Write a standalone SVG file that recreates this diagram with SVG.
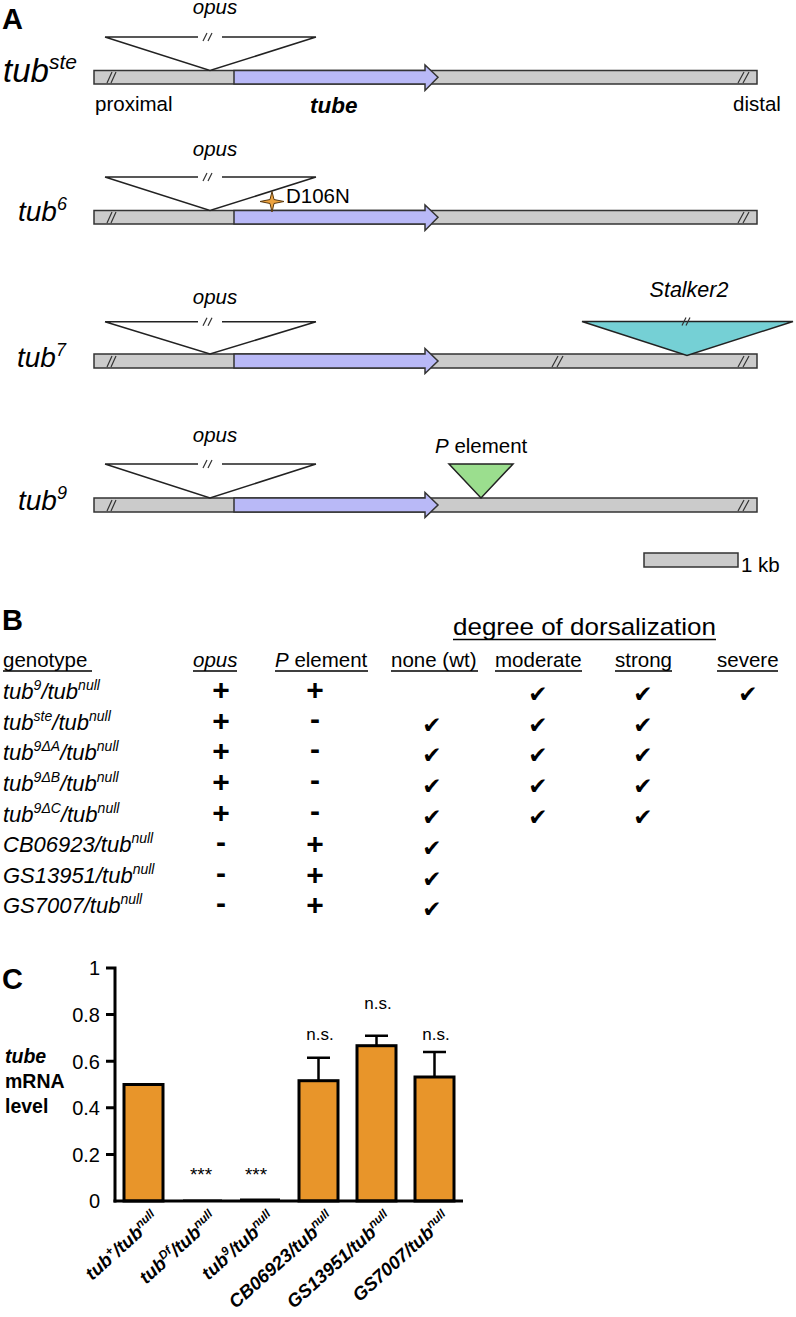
<svg xmlns="http://www.w3.org/2000/svg" width="796" height="1317" viewBox="0 0 796 1317">
<style>
text{font-family:"Liberation Sans",Arial,sans-serif;fill:#000}
.it{font-style:italic}
.b{font-weight:bold}
.bar{fill:#cbcbcb;stroke:#333;stroke-width:1.5}
.gene{fill:#b9b9f7;stroke:#333;stroke-width:1.5}
.insf{fill:#fff;stroke:none}
.ins{fill:none;stroke:#222;stroke-width:1.5}
.brk{stroke:#333;stroke-width:1.2;fill:none}
.lbl{font-size:20.5px}
.ul{stroke:#000;stroke-width:1.5}
.chk{font-family:"DejaVu Sans",sans-serif;font-size:23px;text-anchor:middle}
.pm{font-size:30px;font-weight:bold;text-anchor:middle}
.gt{font-size:22px;font-style:italic}
.hd{font-size:20.5px}
.obar{fill:#e8952a;stroke:#000;stroke-width:3}
.err{stroke:#000;stroke-width:2.5;fill:none}
.ax{stroke:#000;stroke-width:3;fill:none}
.tk{font-size:20px;text-anchor:end}
.xl{font-size:18.5px;font-weight:bold;font-style:italic;text-anchor:end}
.ns{font-size:17px;text-anchor:middle}
</style>

<g id="panel-labels">
<text x="2" y="29" font-size="29" class="b">A</text>
<text x="2" y="630" font-size="29" class="b">B</text>
<text x="2" y="989" font-size="29" class="b">C</text>
</g>

<!-- Row 1: tub ste -->
<g id="row-tubste">
<text x="3" y="82" font-size="33" class="it">tub<tspan font-size="21" dy="-13">ste</tspan></text>
<rect class="bar" x="94" y="70.5" width="663" height="13.5"/>
<path class="gene" d="M234,70.5 H425 V65 L438,77.25 L425,90.5 V84 H234 Z"/>
<path class="brk" d="M107,83 L112,72 M111,83 L116,72 M738,83 L744,72 M743,83 L749,72"/>
<polygon class="insf" points="105,37 316,37 210,70.5"/>
<path class="ins" d="M105,37 L210,70.5 L316,37 M105,37 H198 M222,37 H316"/>
<path class="brk" d="M203,41 L207,33 M208,41 L212,33"/>
<text x="215" y="14" class="lbl it" text-anchor="middle">opus</text>
<text x="95" y="111" class="lbl">proximal</text>
<text x="310" y="113" font-size="22.5" class="b it">tube</text>
<text x="733" y="111" class="lbl">distal</text>
</g>

<!-- Row 2: tub6 -->
<g id="row-tub6">
<text x="18" y="221" font-size="28" class="it">tub<tspan font-size="18" dy="-11">6</tspan></text>
<rect class="bar" x="94" y="210.5" width="663" height="13.5"/>
<path class="gene" d="M234,210.5 H425 V205 L438,217.25 L425,230.5 V224 H234 Z"/>
<path class="brk" d="M107,223 L112,212 M111,223 L116,212 M738,223 L744,212 M743,223 L749,212"/>
<polygon class="insf" points="105,177 316,177 210,210.5"/>
<path class="ins" d="M105,177 L210,210.5 L316,177 M105,177 H198 M222,177 H316"/>
<path class="brk" d="M203,181 L207,173 M208,181 L212,173"/>
<text x="215" y="156" class="lbl it" text-anchor="middle">opus</text>
<path d="M272,191.5 L274,199.5 L284,201.5 L274,203.5 L272,212 L270,203.5 L260,201.5 L270,199.5 Z" fill="#eda33f" stroke="#5a3a10" stroke-width="1"/>
<text x="286" y="203" class="lbl">D106N</text>
</g>

<!-- Row 3: tub7 -->
<g id="row-tub7">
<text x="17" y="367" font-size="28" class="it">tub<tspan font-size="18" dy="-11">7</tspan></text>
<rect class="bar" x="94" y="354" width="663" height="14"/>
<path class="gene" d="M234,354 H425 V348.5 L438,361 L425,373.5 V368 H234 Z"/>
<path class="brk" d="M107,367 L112,356 M111,367 L116,356 M552,367 L558,356 M557,367 L563,356 M738,367 L744,356 M743,367 L749,356"/>
<polygon class="insf" points="105,321.7 316,321.7 210,354"/>
<path class="ins" d="M105,321.7 L210,354 L316,321.7 M105,321.7 H198 M222,321.7 H316"/>
<path class="brk" d="M203,325.7 L207,317.7 M208,325.7 L212,317.7"/>
<text x="215" y="304" class="lbl it" text-anchor="middle">opus</text>
<polygon points="582,321.5 793,321.5 687,355.5" fill="#75d0d5" stroke="#222" stroke-width="1.5"/>
<path class="brk" d="M682,325.5 L686,317.5 M686,325.5 L690,317.5"/>
<text x="689" y="297" font-size="21.5" class="it" text-anchor="middle">Stalker2</text>
</g>

<!-- Row 4: tub9 -->
<g id="row-tub9">
<text x="18" y="510" font-size="28" class="it">tub<tspan font-size="18" dy="-11">9</tspan></text>
<rect class="bar" x="94" y="498" width="663" height="14"/>
<path class="gene" d="M234,498 H425 V492.5 L438,505 L425,517.5 V512 H234 Z"/>
<path class="brk" d="M107,511 L112,500 M111,511 L116,500 M738,511 L744,500 M743,511 L749,500"/>
<polygon class="insf" points="105,464 316,464 210,498"/>
<path class="ins" d="M105,464 L210,498 L316,464 M105,464 H198 M222,464 H316"/>
<path class="brk" d="M203,468 L207,460 M208,468 L212,460"/>
<text x="215" y="442" class="lbl it" text-anchor="middle">opus</text>
<polygon points="449,464 513,464 481,498" fill="#9bde8e" stroke="#222" stroke-width="1.5"/>
<text x="435" y="453" class="lbl"><tspan class="it">P</tspan> element</text>
</g>

<g id="scale-bar">
<rect class="bar" x="644" y="553" width="94" height="14"/>
<text x="741" y="572" class="lbl">1 kb</text>
</g>

<!-- Panel B table -->
<g id="table-header">
<text x="453" y="635" font-size="24" textLength="263" lengthAdjust="spacingAndGlyphs">degree of dorsalization</text>
<line class="ul" x1="453" y1="639.5" x2="716" y2="639.5"/>
<text x="3" y="667" class="hd">genotype</text>
<text x="193" y="667" class="hd it">opus</text>
<text x="275" y="667" class="hd"><tspan class="it">P</tspan> element</text>
<text x="391" y="667" class="hd">none (wt)</text>
<text x="495" y="667" class="hd">moderate</text>
<text x="615" y="667" class="hd">strong</text>
<text x="717" y="667" class="hd">severe</text>
<path class="ul" d="M3,671 H92 M193,671 H237 M275,671 H368 M391,671 H478 M495,671 H582 M615,671 H672 M717,671 H778"/>
</g>

<g id="table-row1">
<text x="3" y="699" class="gt">tub<tspan font-size="14" dy="-9">9</tspan><tspan dy="9">/tub</tspan><tspan font-size="14" dy="-9">null</tspan></text>
<text x="221" y="700" class="pm">+</text><text x="315" y="700" class="pm">+</text>
<text x="538" y="702" class="chk">✔</text><text x="643" y="702" class="chk">✔</text><text x="748" y="702" class="chk">✔</text>
</g>
<g id="table-row2">
<text x="3" y="730" class="gt">tub<tspan font-size="14" dy="-9">ste</tspan><tspan dy="9">/tub</tspan><tspan font-size="14" dy="-9">null</tspan></text>
<text x="221" y="731" class="pm">+</text><text x="315" y="729" class="pm">-</text>
<text x="432" y="733" class="chk">✔</text><text x="538" y="733" class="chk">✔</text><text x="643" y="733" class="chk">✔</text>
</g>
<g id="table-row3">
<text x="3" y="760" class="gt">tub<tspan font-size="14" dy="-9">9ΔA</tspan><tspan dy="9">/tub</tspan><tspan font-size="14" dy="-9">null</tspan></text>
<text x="221" y="761" class="pm">+</text><text x="315" y="759" class="pm">-</text>
<text x="432" y="763" class="chk">✔</text><text x="538" y="763" class="chk">✔</text><text x="643" y="763" class="chk">✔</text>
</g>
<g id="table-row4">
<text x="3" y="791" class="gt">tub<tspan font-size="14" dy="-9">9ΔB</tspan><tspan dy="9">/tub</tspan><tspan font-size="14" dy="-9">null</tspan></text>
<text x="221" y="792" class="pm">+</text><text x="315" y="790" class="pm">-</text>
<text x="432" y="794" class="chk">✔</text><text x="538" y="794" class="chk">✔</text><text x="643" y="794" class="chk">✔</text>
</g>
<g id="table-row5">
<text x="3" y="822" class="gt">tub<tspan font-size="14" dy="-9">9ΔC</tspan><tspan dy="9">/tub</tspan><tspan font-size="14" dy="-9">null</tspan></text>
<text x="221" y="823" class="pm">+</text><text x="315" y="821" class="pm">-</text>
<text x="432" y="825" class="chk">✔</text><text x="538" y="825" class="chk">✔</text><text x="643" y="825" class="chk">✔</text>
</g>
<g id="table-row6">
<text x="3" y="852" class="gt">CB06923/tub<tspan font-size="14" dy="-9">null</tspan></text>
<text x="221" y="852" class="pm">-</text><text x="315" y="854" class="pm">+</text>
<text x="432" y="856" class="chk">✔</text>
</g>
<g id="table-row7">
<text x="3" y="883" class="gt">GS13951/tub<tspan font-size="14" dy="-9">null</tspan></text>
<text x="221" y="883" class="pm">-</text><text x="315" y="885" class="pm">+</text>
<text x="432" y="887" class="chk">✔</text>
</g>
<g id="table-row8">
<text x="3" y="913" class="gt">GS7007/tub<tspan font-size="14" dy="-9">null</tspan></text>
<text x="221" y="913" class="pm">-</text><text x="315" y="915" class="pm">+</text>
<text x="432" y="917" class="chk">✔</text>
</g>

<!-- Panel C chart -->
<g id="y-axis">
<path class="ax" d="M115,966.5 V1202.5 M106,968 H115 M106,1014.6 H115 M106,1061.2 H115 M106,1107.8 H115 M106,1154.4 H115"/>
<text x="100" y="975" class="tk">1</text>
<text x="100" y="1022" class="tk">0.8</text>
<text x="100" y="1068.5" class="tk">0.6</text>
<text x="100" y="1115" class="tk">0.4</text>
<text x="100" y="1161.5" class="tk">0.2</text>
<text x="100" y="1208" class="tk">0</text>
<text x="5" y="1063" font-size="19.5" class="b it">tube</text>
<text x="5" y="1088" font-size="19.5" class="b">mRNA</text>
<text x="5" y="1113" font-size="19.5" class="b">level</text>
</g>

<g id="bar-tubplus">
<rect class="obar" x="124" y="1084.5" width="39" height="116.5"/>
<text class="xl" transform="translate(160,1220) rotate(-42)">tub<tspan font-size="12" dy="-7">+</tspan><tspan dy="7">/tub</tspan><tspan font-size="12" dy="-7">null</tspan></text>
</g>
<g id="bar-tubDf">
<rect x="183" y="1199.5" width="39" height="1.5" fill="#000"/>
<text x="201" y="1181" font-size="19" text-anchor="middle">***</text>
<text class="xl" transform="translate(218,1220) rotate(-42)">tub<tspan font-size="12" dy="-7">Df</tspan><tspan dy="7">/tub</tspan><tspan font-size="12" dy="-7">null</tspan></text>
</g>
<g id="bar-tub9">
<rect x="240" y="1198.5" width="40" height="2.5" fill="#000"/>
<text x="256" y="1181" font-size="19" text-anchor="middle">***</text>
<text class="xl" transform="translate(276,1220) rotate(-42)">tub<tspan font-size="12" dy="-7">9</tspan><tspan dy="7">/tub</tspan><tspan font-size="12" dy="-7">null</tspan></text>
</g>
<g id="bar-CB06923">
<path class="err" d="M318.5,1080.7 V1057.7 M307,1057.7 H330"/>
<rect class="obar" x="299" y="1080.7" width="39" height="120.3"/>
<text x="320" y="1040" class="ns">n.s.</text>
<text class="xl" transform="translate(335,1220) rotate(-42)">CB06923/tub<tspan font-size="12" dy="-7">null</tspan></text>
</g>
<g id="bar-GS13951">
<path class="err" d="M376.5,1045.7 V1035.7 M365,1035.7 H388"/>
<rect class="obar" x="357" y="1045.7" width="39" height="155.3"/>
<text x="378" y="1009" class="ns">n.s.</text>
<text class="xl" transform="translate(393,1220) rotate(-42)">GS13951/tub<tspan font-size="12" dy="-7">null</tspan></text>
</g>
<g id="bar-GS7007">
<path class="err" d="M434.5,1077 V1052 M423,1052 H446"/>
<rect class="obar" x="415" y="1077" width="39" height="124"/>
<text x="436" y="1040" class="ns">n.s.</text>
<text class="xl" transform="translate(451,1220) rotate(-42)">GS7007/tub<tspan font-size="12" dy="-7">null</tspan></text>
</g>
<g id="x-axis">
<path class="ax" d="M113.5,1201 H463"/>
</g>
</svg>
